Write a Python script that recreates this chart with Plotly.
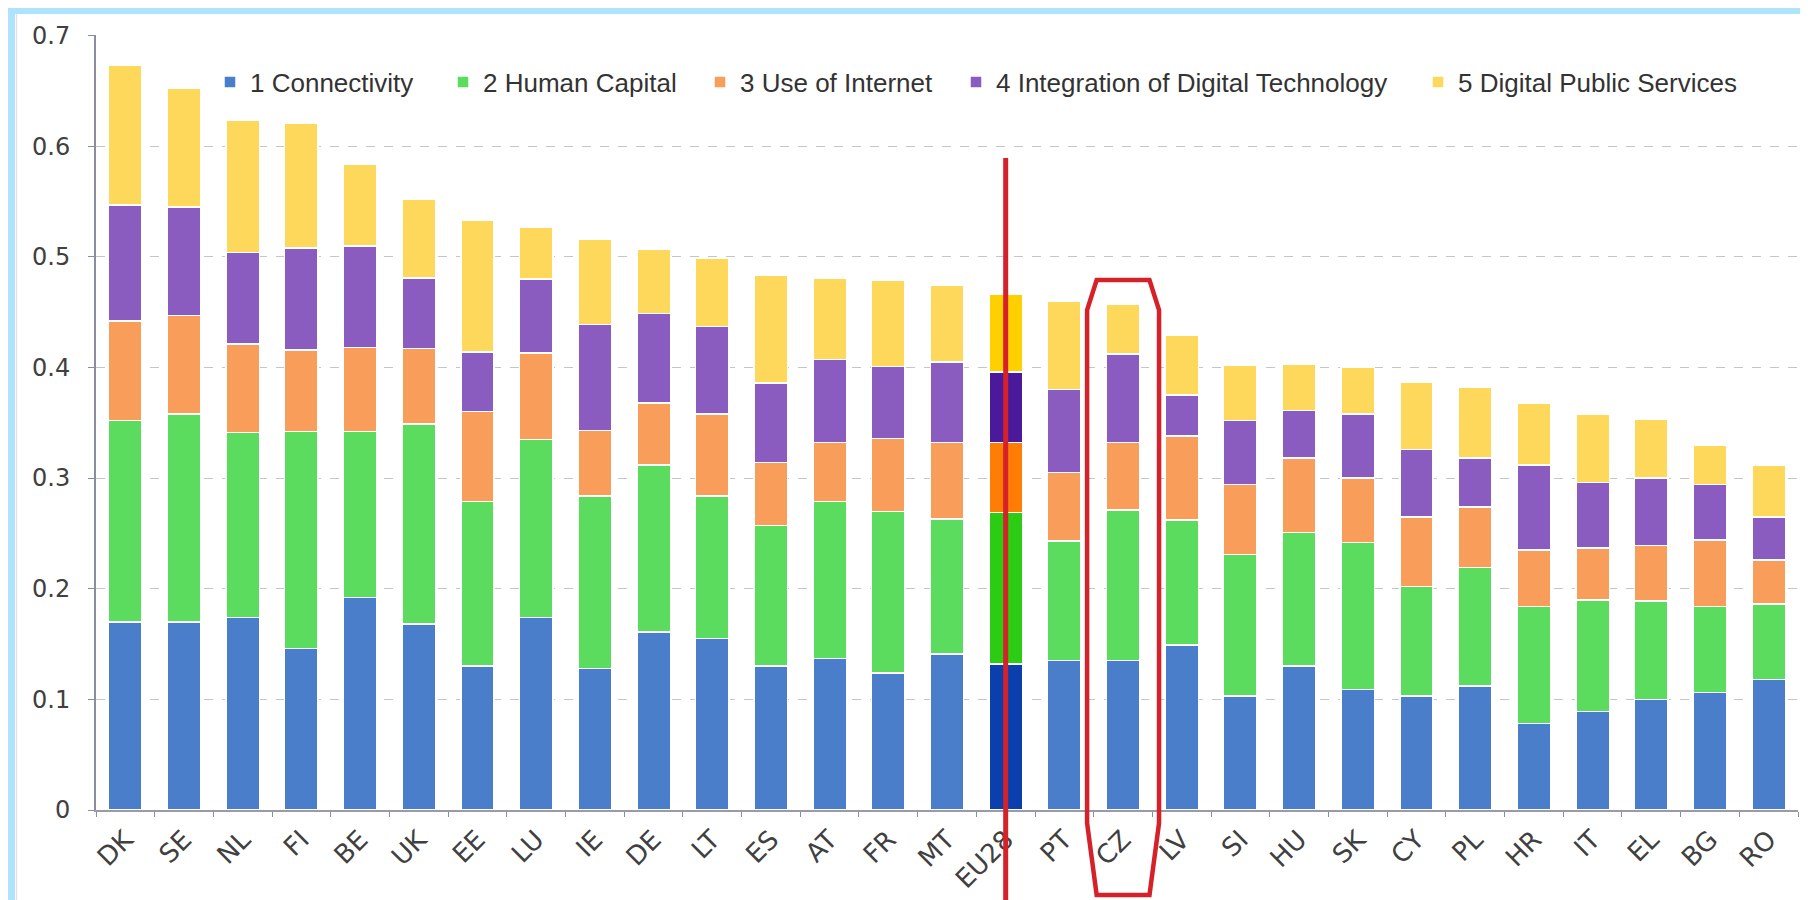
import plotly.graph_objects as go

categories = ["DK", "SE", "NL", "FI", "BE", "UK", "EE", "LU", "IE", "DE", "LT", "ES", "AT", "FR", "MT",
              "EU28", "PT", "CZ", "LV", "SI", "HU", "SK", "CY", "PL", "HR", "IT", "EL", "BG", "RO"]

connectivity = [0.170, 0.170, 0.174, 0.146, 0.192, 0.168, 0.130, 0.174, 0.128, 0.161, 0.155, 0.130, 0.137, 0.124, 0.141,
                0.132, 0.135, 0.135, 0.149, 0.103, 0.130, 0.109, 0.103, 0.112, 0.078, 0.089, 0.100, 0.106, 0.118]
human_capital = [0.182, 0.188, 0.167, 0.196, 0.150, 0.181, 0.149, 0.161, 0.156, 0.151, 0.129, 0.127, 0.142, 0.146, 0.122,
                 0.137, 0.108, 0.136, 0.113, 0.128, 0.121, 0.133, 0.099, 0.107, 0.106, 0.101, 0.089, 0.078, 0.068]
use_of_internet = [0.090, 0.089, 0.080, 0.074, 0.076, 0.068, 0.081, 0.078, 0.059, 0.056, 0.074, 0.057, 0.053, 0.066, 0.069,
                   0.063, 0.062, 0.061, 0.076, 0.063, 0.067, 0.058, 0.063, 0.055, 0.051, 0.047, 0.050, 0.060, 0.040]
integration_tech = [0.105, 0.098, 0.083, 0.092, 0.092, 0.064, 0.054, 0.067, 0.096, 0.081, 0.079, 0.072, 0.075, 0.065, 0.073,
                    0.064, 0.075, 0.080, 0.037, 0.058, 0.043, 0.058, 0.061, 0.044, 0.077, 0.059, 0.061, 0.050, 0.039]
public_services = [0.126, 0.107, 0.119, 0.113, 0.074, 0.071, 0.119, 0.047, 0.077, 0.058, 0.062, 0.097, 0.074, 0.078, 0.069,
                   0.070, 0.080, 0.045, 0.054, 0.050, 0.042, 0.042, 0.061, 0.064, 0.056, 0.062, 0.053, 0.036, 0.047]

series_names = ["1 Connectivity", "2 Human Capital", "3 Use of Internet",
                "4 Integration of Digital Technology", "5 Digital Public Services"]
series_values = [connectivity, human_capital, use_of_internet, integration_tech, public_services]
base_colors = ["#4a7ecb", "#5cdc5f", "#f99e5a", "#8a5cc0", "#fdd85a"]
eu_colors = ["#0b3fae", "#2ccb14", "#ff7d05", "#4a1a9a", "#ffd000"]

y_ticks = [0, 0.1, 0.2, 0.3, 0.4, 0.5, 0.6, 0.7]
y_ticktext = ["0", "0.1", "0.2", "0.3", "0.4", "0.5", "0.6", "0.7"]

highlight_avg = "EU28"
highlight_country = "CZ"

W, H = 1808, 900
ml, mr, mt, mb = 88, 18, 27, 98
pw = W - ml - mr


def px_to_paper_x(px):
    return (px - ml) / pw


def px_to_paper_y(py):
    return (H - mb - py) / (H - mt - mb)


# legend entry positions (symbol centres, pixels)
legend_symbol_px = [222, 455, 712, 968, 1430]
legend_keys = ["legend", "legend2", "legend3", "legend4", "legend5"]

fig = go.Figure()
for name, vals, c, ec, lk in zip(series_names, series_values, base_colors, eu_colors, legend_keys):
    cols = [ec if cat == highlight_avg else c for cat in categories]
    fig.add_trace(go.Bar(
        x=categories, y=vals, name=name, legend=lk,
        marker=dict(color=cols, line=dict(color="white", width=1.5)),
    ))

legend_layouts = {}
for lk, sx in zip(legend_keys, legend_symbol_px):
    legend_layouts[lk] = dict(
        orientation="h", x=px_to_paper_x(sx - 20), xanchor="left",
        y=px_to_paper_y(74), yanchor="middle",
        font=dict(family="Liberation Sans, Arial, sans-serif", size=26, color="#333333"),
        bgcolor="rgba(0,0,0,0)", borderwidth=0, itemwidth=30,
    )

fig.update_layout(
    width=W, height=H,
    barmode="stack", bargap=0.43,
    margin=dict(l=ml, r=mr, t=mt, b=mb, pad=0),
    paper_bgcolor="white", plot_bgcolor="white",
    font=dict(family="Liberation Sans, Arial, sans-serif", color="#444444"),
    showlegend=True,
    **legend_layouts,
)
fig.update_yaxes(range=[0, 0.7005], tickvals=y_ticks, ticktext=y_ticktext, automargin=False,
                 showgrid=True, gridcolor="#c4c4cc", griddash="dash", gridwidth=1.2,
                 showline=True, linecolor="#8c8ca0", linewidth=2,
                 ticks="outside", ticklen=6, tickcolor="#8c8ca0", ticklabelstandoff=13,
                 tickfont=dict(family="DejaVu Sans, sans-serif", size=24, color="#404040"), zeroline=False)
fig.update_xaxes(type="category", tickangle=-45, automargin=False,
                 tickfont=dict(family="DejaVu Sans, sans-serif", size=26, color="#404040"),
                 showline=True, linecolor="#9a9aa8", linewidth=2,
                 ticks="outside", ticklen=5, tickcolor="#8c8ca0", tickson="boundaries",
                 ticklabelstandoff=2, showgrid=False)

# light blue frame around the screenshot
frame = "#aee3fd"
fig.add_shape(type="rect", xref="paper", yref="paper", x0=px_to_paper_x(0), x1=px_to_paper_x(W),
              y0=px_to_paper_y(6), y1=px_to_paper_y(0), fillcolor=frame, line_width=0, layer="below")
fig.add_shape(type="rect", xref="paper", yref="paper", x0=px_to_paper_x(0), x1=px_to_paper_x(7),
              y0=px_to_paper_y(H), y1=px_to_paper_y(0), fillcolor=frame, line_width=0, layer="below")
fig.add_shape(type="rect", xref="paper", yref="paper", x0=px_to_paper_x(1804), x1=px_to_paper_x(W),
              y0=px_to_paper_y(H), y1=px_to_paper_y(0), fillcolor=frame, line_width=0, layer="below")
fig.add_shape(type="line", xref="paper", yref="paper", x0=px_to_paper_x(8.5), x1=px_to_paper_x(8.5),
              y0=px_to_paper_y(H), y1=px_to_paper_y(6), line=dict(color="#e2e2e2", width=1.5), layer="below")
fig.add_shape(type="line", xref="paper", yref="paper", x0=px_to_paper_x(1802.5), x1=px_to_paper_x(1802.5),
              y0=px_to_paper_y(H), y1=px_to_paper_y(6), line=dict(color="#d8d8d8", width=1.5), layer="below")

# red highlight marks
n = len(categories)
i_avg = categories.index(highlight_avg)
i_cz = categories.index(highlight_country)
xa = (i_avg + 0.5) / n
fig.add_shape(type="line", xref="paper", yref="paper", x0=xa, x1=xa,
              y0=px_to_paper_y(892), y1=px_to_paper_y(150),
              line=dict(color="#d6202a", width=5))

xc = (i_cz + 0.5) / n
half_out = 0.613 / n
half_in = 0.45 / n
yt = px_to_paper_y(272)
yb = px_to_paper_y(887)
ys1 = px_to_paper_y(302)
ys2 = px_to_paper_y(815)
path = (f"M {xc-half_in} {yt} L {xc+half_in} {yt} L {xc+half_out} {ys1} "
        f"L {xc+half_out} {ys2} L {xc+half_in} {yb} L {xc-half_in} {yb} "
        f"L {xc-half_out} {ys2} L {xc-half_out} {ys1} Z")
fig.add_shape(type="path", xref="paper", yref="paper", path=path,
              line=dict(color="#d6202a", width=4.5))

fig.write_html("out.html")
